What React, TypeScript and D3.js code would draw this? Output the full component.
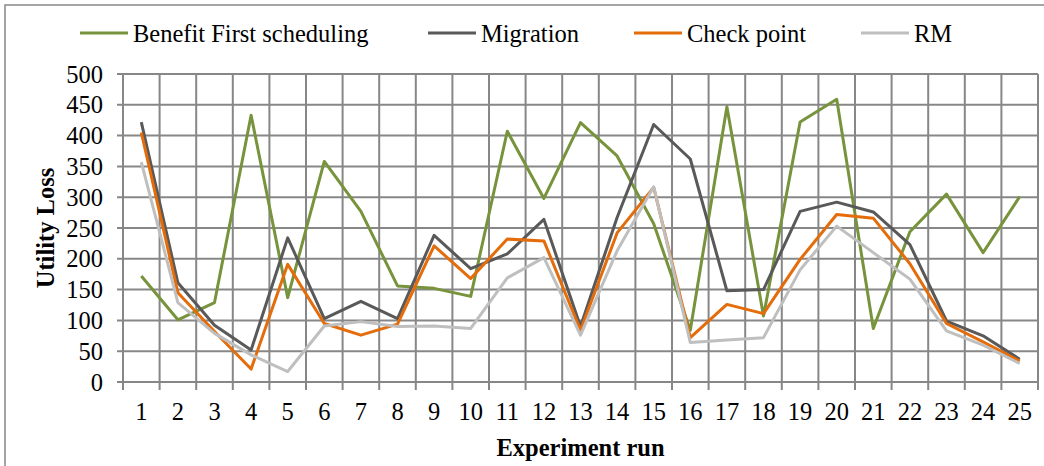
import React from 'react';
import * as d3 from 'd3';

const runs = d3.range(1, 26).map(String);
const benefitFirst = [172, 101, 129, 433, 137, 358, 277, 156, 152, 139, 407, 298, 421, 367, 257, 84, 447, 107, 422, 459, 87, 244, 305, 210, 301];
const migration = [422, 161, 92, 52, 234, 103, 131, 103, 238, 184, 208, 264, 90, 267, 418, 362, 148, 150, 277, 292, 276, 223, 99, 75, 37];
const checkPoint = [405, 145, 82, 21, 191, 95, 76, 94, 221, 168, 232, 229, 84, 242, 316, 72, 126, 111, 199, 272, 266, 192, 95, 65, 34];
const rm = [357, 129, 79, 44, 17, 91, 98, 90, 91, 87, 169, 202, 76, 213, 317, 64, 68, 72, 182, 253, 210, 167, 83, 60, 30];
const yTicks = [0, 50, 100, 150, 200, 250, 300, 350, 400, 450, 500];

const seriesNames = ['Benefit First scheduling', 'Migration', 'Check point', 'RM'];
const seriesColors = ['#77933C', '#595959', '#E46C0A', '#BFBFBF'];
const seriesValues = [benefitFirst, migration, checkPoint, rm];
const legendX = [80, 428, 634, 861];

const width = 1044;
const height = 466;
const left = 123;
const right = 1038;
const top = 74;
const bottom = 382;
const font = '"Liberation Serif", "Times New Roman", serif';
const fs = 24.5;

export default function App() {
    const x = d3.scaleBand().domain(runs).range([left, right]);
    const y = d3.scaleLinear().domain([0, 500]).range([bottom, top]);

    const line = d3
        .line<number>()
        .x((d, i) => (x(runs[i]) as number) + x.bandwidth() / 2)
        .y(d => y(d));

    const gridColor = '#878787';

    return (
        <svg width={width} height={height} style={{ position: 'absolute', left: 0, top: 0 }}>
            <rect x={0} y={0} width={width} height={height} fill="#fff" />
            <rect x={5} y={5} width={width} height={height} fill="none" stroke="#888" strokeWidth={1.5} />

            {/* horizontal grid */}
            {yTicks.map(t => (
                <line key={'h' + t} x1={117} x2={right} y1={y(t)} y2={y(t)} stroke={gridColor} strokeWidth={2} />
            ))}
            {/* vertical grid + ticks */}
            {d3.range(runs.length + 1).map(i => {
                const xx = left + i * x.bandwidth();
                return <line key={'v' + i} x1={xx} x2={xx} y1={top} y2={390} stroke={gridColor} strokeWidth={2} />;
            })}

            {yTicks.map(t => (
                <text key={'yl' + t} x={103} y={y(t)} dy="0.35em" textAnchor="end" fontFamily={font} fontSize={fs}>
                    {t}
                </text>
            ))}
            {runs.map(r => (
                <text key={'xl' + r} x={(x(r) as number) + x.bandwidth() / 2} y={411} dy="0.35em" textAnchor="middle" fontFamily={font} fontSize={fs}>
                    {r}
                </text>
            ))}

            {seriesValues.map((vals, i) => (
                <path key={seriesNames[i]} d={line(vals) as string} fill="none" stroke={seriesColors[i]} strokeWidth={3} strokeLinejoin="round" />
            ))}

            {/* legend */}
            {seriesNames.map((name, i) => (
                <g key={'lg' + name}>
                    <line x1={legendX[i]} x2={legendX[i] + 48} y1={33} y2={33} stroke={seriesColors[i]} strokeWidth={3} />
                    <text x={legendX[i] + 53} y={33} dy="0.35em" fontFamily={font} fontSize={fs}>
                        {name}
                    </text>
                </g>
            ))}

            <text
                transform={`translate(45,${(top + bottom) / 2}) rotate(-90)`}
                textAnchor="middle"
                dy="0.35em"
                fontFamily={font}
                fontSize={fs}
                fontWeight="bold"
            >
                Utility Loss
            </text>
            <text x={(left + right) / 2} y={447} dy="0.35em" textAnchor="middle" fontFamily={font} fontSize={fs} fontWeight="bold">
                Experiment run
            </text>
        </svg>
    );
}
